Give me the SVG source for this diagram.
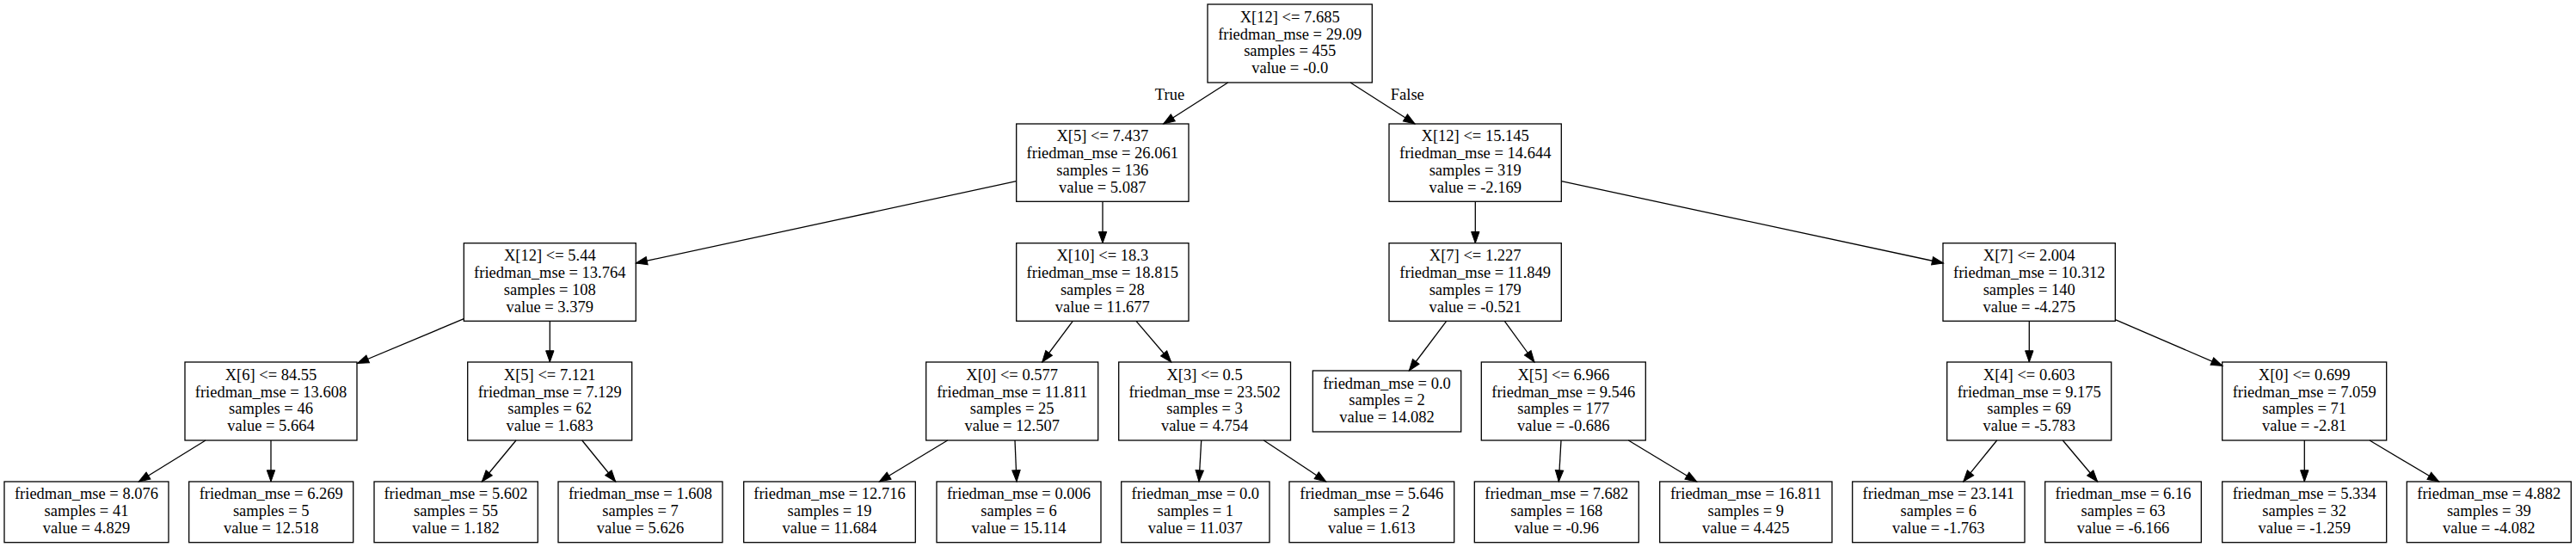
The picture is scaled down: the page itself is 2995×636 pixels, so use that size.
<svg xmlns="http://www.w3.org/2000/svg" width="2995" height="636" viewBox="0 0 2995 636">
<defs>
<style>
.n rect{fill:#fff;stroke:#000;stroke-width:1.3}
.n text,.lbl{font-family:"Liberation Serif","Times New Roman",serif;font-size:18.5px;text-anchor:middle;fill:#000}
.e line{stroke:#000;stroke-width:1.3;marker-end:url(#ah)}
</style>
<marker id="ah" markerUnits="userSpaceOnUse" markerWidth="16" markerHeight="12" viewBox="0 -6 14 12" refX="13.2" refY="0" orient="auto">
<path d="M0,-4.7 L13.2,0 L0,4.7 z" fill="#000" stroke="#000" stroke-width="1"/>
</marker>
</defs>
<rect x="0" y="0" width="2995" height="636" fill="#fff"/>

<g id="nodes">
<g id="n0" class="n"><rect x="1404" y="5" width="191.3" height="91"/><text><tspan x="1499.7" y="25.7">X[12] &lt;= 7.685</tspan><tspan x="1499.7" y="45.5">friedman_mse = 29.09</tspan><tspan x="1499.7" y="65.3">samples = 455</tspan><tspan x="1499.7" y="85.1">value = -0.0</tspan></text></g>

<g id="n1" class="n"><rect x="1181.7" y="144" width="200.3" height="90.3"/><text><tspan x="1281.8" y="164.4">X[5] &lt;= 7.437</tspan><tspan x="1281.8" y="184.2">friedman_mse = 26.061</tspan><tspan x="1281.8" y="204">samples = 136</tspan><tspan x="1281.8" y="223.8">value = 5.087</tspan></text></g>
<g id="n16" class="n"><rect x="1615" y="144" width="200.3" height="90.3"/><text><tspan x="1715.2" y="164.4">X[12] &lt;= 15.145</tspan><tspan x="1715.2" y="184.2">friedman_mse = 14.644</tspan><tspan x="1715.2" y="204">samples = 319</tspan><tspan x="1715.2" y="223.8">value = -2.169</tspan></text></g>

<g id="n2" class="n"><rect x="539.3" y="282.7" width="200" height="90.6"/><text><tspan x="639.3" y="303.2">X[12] &lt;= 5.44</tspan><tspan x="639.3" y="323">friedman_mse = 13.764</tspan><tspan x="639.3" y="342.8">samples = 108</tspan><tspan x="639.3" y="362.6">value = 3.379</tspan></text></g>
<g id="n9" class="n"><rect x="1181.7" y="282.7" width="200.3" height="90.6"/><text><tspan x="1281.8" y="303.2">X[10] &lt;= 18.3</tspan><tspan x="1281.8" y="323">friedman_mse = 18.815</tspan><tspan x="1281.8" y="342.8">samples = 28</tspan><tspan x="1281.8" y="362.6">value = 11.677</tspan></text></g>
<g id="n17" class="n"><rect x="1615" y="282.7" width="200.3" height="90.6"/><text><tspan x="1715.2" y="303.2">X[7] &lt;= 1.227</tspan><tspan x="1715.2" y="323">friedman_mse = 11.849</tspan><tspan x="1715.2" y="342.8">samples = 179</tspan><tspan x="1715.2" y="362.6">value = -0.521</tspan></text></g>
<g id="n23" class="n"><rect x="2259" y="282.7" width="200.3" height="90.6"/><text><tspan x="2359.2" y="303.2">X[7] &lt;= 2.004</tspan><tspan x="2359.2" y="323">friedman_mse = 10.312</tspan><tspan x="2359.2" y="342.8">samples = 140</tspan><tspan x="2359.2" y="362.6">value = -4.275</tspan></text></g>

<g id="n3" class="n"><rect x="215" y="421" width="200" height="91"/><text><tspan x="315" y="441.7">X[6] &lt;= 84.55</tspan><tspan x="315" y="461.5">friedman_mse = 13.608</tspan><tspan x="315" y="481.3">samples = 46</tspan><tspan x="315" y="501.1">value = 5.664</tspan></text></g>
<g id="n6" class="n"><rect x="543.7" y="421" width="191" height="91"/><text><tspan x="639.2" y="441.7">X[5] &lt;= 7.121</tspan><tspan x="639.2" y="461.5">friedman_mse = 7.129</tspan><tspan x="639.2" y="481.3">samples = 62</tspan><tspan x="639.2" y="501.1">value = 1.683</tspan></text></g>
<g id="n10" class="n"><rect x="1076.7" y="421" width="200" height="91"/><text><tspan x="1176.7" y="441.7">X[0] &lt;= 0.577</tspan><tspan x="1176.7" y="461.5">friedman_mse = 11.811</tspan><tspan x="1176.7" y="481.3">samples = 25</tspan><tspan x="1176.7" y="501.1">value = 12.507</tspan></text></g>
<g id="n13" class="n"><rect x="1300.7" y="421" width="199.8" height="91"/><text><tspan x="1400.6" y="441.7">X[3] &lt;= 0.5</tspan><tspan x="1400.6" y="461.5">friedman_mse = 23.502</tspan><tspan x="1400.6" y="481.3">samples = 3</tspan><tspan x="1400.6" y="501.1">value = 4.754</tspan></text></g>
<g id="n18" class="n"><rect x="1526.3" y="431" width="172.4" height="71"/><text><tspan x="1612.5" y="451.6">friedman_mse = 0.0</tspan><tspan x="1612.5" y="471.4">samples = 2</tspan><tspan x="1612.5" y="491.2">value = 14.082</tspan></text></g>
<g id="n19" class="n"><rect x="1722.3" y="421" width="191" height="91"/><text><tspan x="1817.8" y="441.7">X[5] &lt;= 6.966</tspan><tspan x="1817.8" y="461.5">friedman_mse = 9.546</tspan><tspan x="1817.8" y="481.3">samples = 177</tspan><tspan x="1817.8" y="501.1">value = -0.686</tspan></text></g>
<g id="n24" class="n"><rect x="2263.7" y="421" width="191" height="91"/><text><tspan x="2359.2" y="441.7">X[4] &lt;= 0.603</tspan><tspan x="2359.2" y="461.5">friedman_mse = 9.175</tspan><tspan x="2359.2" y="481.3">samples = 69</tspan><tspan x="2359.2" y="501.1">value = -5.783</tspan></text></g>
<g id="n27" class="n"><rect x="2583.7" y="421" width="191" height="91"/><text><tspan x="2679.2" y="441.7">X[0] &lt;= 0.699</tspan><tspan x="2679.2" y="461.5">friedman_mse = 7.059</tspan><tspan x="2679.2" y="481.3">samples = 71</tspan><tspan x="2679.2" y="501.1">value = -2.81</tspan></text></g>

<g id="n4" class="n"><rect x="5" y="560" width="191" height="70.7"/><text><tspan x="100.5" y="580.4">friedman_mse = 8.076</tspan><tspan x="100.5" y="600.2">samples = 41</tspan><tspan x="100.5" y="620">value = 4.829</tspan></text></g>
<g id="n5" class="n"><rect x="219.7" y="560" width="191" height="70.7"/><text><tspan x="315.2" y="580.4">friedman_mse = 6.269</tspan><tspan x="315.2" y="600.2">samples = 5</tspan><tspan x="315.2" y="620">value = 12.518</tspan></text></g>
<g id="n7" class="n"><rect x="435" y="560" width="190.3" height="70.7"/><text><tspan x="530" y="580.4">friedman_mse = 5.602</tspan><tspan x="530" y="600.2">samples = 55</tspan><tspan x="530" y="620">value = 1.182</tspan></text></g>
<g id="n8" class="n"><rect x="649" y="560" width="191" height="70.7"/><text><tspan x="744.5" y="580.4">friedman_mse = 1.608</tspan><tspan x="744.5" y="600.2">samples = 7</tspan><tspan x="744.5" y="620">value = 5.626</tspan></text></g>
<g id="n11" class="n"><rect x="864.7" y="560" width="199.6" height="70.7"/><text><tspan x="964.5" y="580.4">friedman_mse = 12.716</tspan><tspan x="964.5" y="600.2">samples = 19</tspan><tspan x="964.5" y="620">value = 11.684</tspan></text></g>
<g id="n12" class="n"><rect x="1089" y="560" width="191" height="70.7"/><text><tspan x="1184.5" y="580.4">friedman_mse = 0.006</tspan><tspan x="1184.5" y="600.2">samples = 6</tspan><tspan x="1184.5" y="620">value = 15.114</tspan></text></g>
<g id="n14" class="n"><rect x="1303.7" y="560" width="172.3" height="70.7"/><text><tspan x="1389.8" y="580.4">friedman_mse = 0.0</tspan><tspan x="1389.8" y="600.2">samples = 1</tspan><tspan x="1389.8" y="620">value = 11.037</tspan></text></g>
<g id="n15" class="n"><rect x="1499" y="560" width="191.7" height="70.7"/><text><tspan x="1594.8" y="580.4">friedman_mse = 5.646</tspan><tspan x="1594.8" y="600.2">samples = 2</tspan><tspan x="1594.8" y="620">value = 1.613</tspan></text></g>
<g id="n20" class="n"><rect x="1714.3" y="560" width="191" height="70.7"/><text><tspan x="1809.8" y="580.4">friedman_mse = 7.682</tspan><tspan x="1809.8" y="600.2">samples = 168</tspan><tspan x="1809.8" y="620">value = -0.96</tspan></text></g>
<g id="n21" class="n"><rect x="1929.7" y="560" width="200.3" height="70.7"/><text><tspan x="2029.8" y="580.4">friedman_mse = 16.811</tspan><tspan x="2029.8" y="600.2">samples = 9</tspan><tspan x="2029.8" y="620">value = 4.425</tspan></text></g>
<g id="n25" class="n"><rect x="2153.7" y="560" width="200.3" height="70.7"/><text><tspan x="2253.8" y="580.4">friedman_mse = 23.141</tspan><tspan x="2253.8" y="600.2">samples = 6</tspan><tspan x="2253.8" y="620">value = -1.763</tspan></text></g>
<g id="n26" class="n"><rect x="2377.7" y="560" width="181.6" height="70.7"/><text><tspan x="2468.5" y="580.4">friedman_mse = 6.16</tspan><tspan x="2468.5" y="600.2">samples = 63</tspan><tspan x="2468.5" y="620">value = -6.166</tspan></text></g>
<g id="n28" class="n"><rect x="2583.7" y="560" width="191" height="70.7"/><text><tspan x="2679.2" y="580.4">friedman_mse = 5.334</tspan><tspan x="2679.2" y="600.2">samples = 32</tspan><tspan x="2679.2" y="620">value = -1.259</tspan></text></g>
<g id="n29" class="n"><rect x="2798.3" y="560" width="191" height="70.7"/><text><tspan x="2893.8" y="580.4">friedman_mse = 4.882</tspan><tspan x="2893.8" y="600.2">samples = 39</tspan><tspan x="2893.8" y="620">value = -4.082</tspan></text></g>
</g>

<g id="connectors" class="e">
<line x1="1427.7" y1="96" x2="1352.7" y2="144"/>
<line x1="1570" y1="96" x2="1645" y2="144"/>
<text class="lbl" x="1360" y="116">True</text>
<text class="lbl" x="1636.3" y="116">False</text>
<line x1="1181.7" y1="210.7" x2="739.3" y2="306"/>
<line x1="1282" y1="234.3" x2="1282" y2="282.7"/>
<line x1="1715.3" y1="234.3" x2="1715.3" y2="282.7"/>
<line x1="1815.3" y1="210.7" x2="2259.5" y2="306"/>
<line x1="539.3" y1="370.7" x2="415.5" y2="422.5"/>
<line x1="639.3" y1="373.3" x2="639.3" y2="421"/>
<line x1="239" y1="512" x2="161.3" y2="560"/>
<line x1="315" y1="512" x2="315" y2="560"/>
<line x1="600" y1="512" x2="560.3" y2="560"/>
<line x1="676.7" y1="512" x2="715.7" y2="560"/>
<line x1="1247.3" y1="373.3" x2="1211.7" y2="421"/>
<line x1="1321" y1="373.3" x2="1361.7" y2="421"/>
<line x1="1101.7" y1="512" x2="1022.3" y2="560"/>
<line x1="1180" y1="512" x2="1182" y2="560"/>
<line x1="1396.7" y1="512" x2="1394" y2="560"/>
<line x1="1469.3" y1="512" x2="1541.7" y2="560"/>
<line x1="1681.7" y1="373.3" x2="1638.3" y2="431"/>
<line x1="1749.3" y1="373.3" x2="1784" y2="421"/>
<line x1="1815" y1="512" x2="1812.3" y2="560"/>
<line x1="1893.3" y1="512" x2="1972.7" y2="560"/>
<line x1="2359.3" y1="373.3" x2="2359.3" y2="421"/>
<line x1="2459.3" y1="371.7" x2="2584" y2="425.3"/>
<line x1="2321.7" y1="512" x2="2282.7" y2="560"/>
<line x1="2398.3" y1="512" x2="2438.7" y2="560"/>
<line x1="2679.3" y1="512" x2="2679.3" y2="560"/>
<line x1="2755" y1="512" x2="2835.7" y2="560"/>
</g>
</svg>
